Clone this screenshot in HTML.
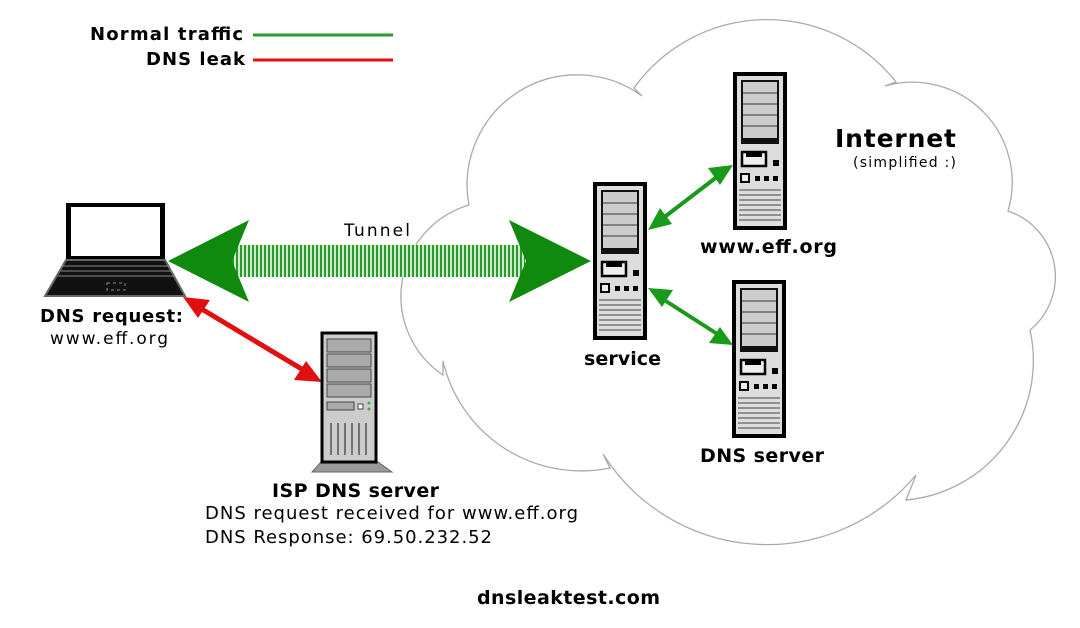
<!DOCTYPE html>
<html><head><meta charset="utf-8"><style>
body{margin:0;background:#fff}
svg{display:block}
text{font-family:"DejaVu Sans","Liberation Sans",sans-serif;fill:#000}
</style></head><body>
<svg width="1080" height="628" viewBox="0 0 1080 628" xmlns="http://www.w3.org/2000/svg">
<defs>
<pattern id="hatch" width="4" height="4" patternUnits="userSpaceOnUse">
<rect width="4" height="4" fill="#cfe8cf"/><rect width="2" height="4" fill="#2a9a2a"/>
</pattern>
<g id="tower">
<rect x="2" y="2" width="50" height="154" fill="#ddd" stroke="#000" stroke-width="4"/>
<rect x="8" y="8" width="38" height="64" fill="#111"/>
<rect x="10" y="10" width="34" height="56" fill="#ccc"/>
<path d="M10 21H44M10 32H44M10 43H44M10 54H44" stroke="#666" stroke-width="1.5"/>
<rect x="9" y="80" width="24" height="14" fill="#eee" stroke="#000" stroke-width="2.5"/>
<rect x="13" y="80" width="16" height="5" fill="#000"/>
<rect x="40" y="88" width="6" height="6" fill="#000"/>
<rect x="8" y="102" width="8" height="8" fill="#eee" stroke="#000" stroke-width="2"/>
<rect x="22" y="104" width="5" height="5" fill="#000"/><rect x="31" y="104" width="5" height="5" fill="#000"/><rect x="40" y="104" width="5" height="5" fill="#000"/>
<path d="M6 118H48M6 123H48M6 128H48M6 133H48M6 138H48M6 143H48M6 148H48" stroke="#777" stroke-width="1.5"/>
</g>
</defs>

<!-- cloud -->
<path d="M469 205 A110 110 0 0 1 642 96 L634 88 A164 164 0 0 1 896 82 L885 86 A100 100 0 0 1 1008 211 A69 69 0 0 1 1030 330 A140 140 0 0 1 906 500 L916 475 A194 194 0 0 1 603 454 L610 468 A142 142 0 0 1 443 361 L443 375 A95 95 0 0 1 469 205 Z" fill="#fff" stroke="#aaa" stroke-width="1.3"/>

<!-- legend -->
<text x="90" y="40" font-size="18" font-weight="bold" textLength="153">Normal traffic</text>
<line x1="253" y1="35" x2="393" y2="35" stroke="#2a9a2a" stroke-width="3"/>
<text x="146" y="65" font-size="18" font-weight="bold" textLength="99">DNS leak</text>
<line x1="253" y1="60" x2="393" y2="60" stroke="#e01010" stroke-width="3"/>

<text x="835" y="147" font-size="25" font-weight="bold" textLength="121">Internet</text>
<text x="853" y="167" font-size="14" textLength="103">(simplified :)</text>

<!-- tunnel -->
<rect x="225" y="245" width="300" height="32" fill="url(#hatch)"/>
<polygon points="168,261 249,220 232,261 249,302" fill="#0f8a0f"/>
<polygon points="591,261 509,220 526,261 509,302" fill="#0f8a0f"/>
<text x="344" y="236" font-size="17" textLength="66">Tunnel</text>

<!-- laptop -->
<rect x="66" y="203" width="99" height="57" fill="#000"/>
<rect x="71" y="207" width="89" height="49" fill="#fff"/>
<polygon points="66,260 165,260 185,296 45,296" fill="#111" stroke="#666" stroke-width="2"/>
<path d="M62 266H170M60 271H172M58 276H174" stroke="#888" stroke-width="1"/>
<rect x="107" y="283" width="18" height="7" fill="none" stroke="#888" stroke-width="1" stroke-dasharray="3 3"/>
<text x="40" y="322" font-size="18" font-weight="bold" textLength="143">DNS request:</text>
<text x="50" y="344" font-size="17" textLength="118">www.eff.org</text>

<!-- red arrow -->
<line x1="195" y1="305" x2="310" y2="374" stroke="#e01010" stroke-width="5"/>
<polygon points="183,297 210,300 198,318" fill="#e01010"/>
<polygon points="322,382 294,380 306,361" fill="#e01010"/>

<!-- ISP server -->
<polygon points="321,462 378,462 392,472 312,472" fill="#999" stroke="#666"/>
<rect x="322" y="333" width="54" height="129" fill="#ccc" stroke="#000" stroke-width="3"/>
<rect x="327" y="339" width="44" height="13" fill="#aaa" stroke="#444"/>
<rect x="327" y="354" width="44" height="13" fill="#aaa" stroke="#444"/>
<rect x="327" y="369" width="44" height="13" fill="#aaa" stroke="#444"/>
<rect x="327" y="384" width="44" height="13" fill="#aaa" stroke="#444"/>
<rect x="327" y="402" width="27" height="8" fill="#aaa" stroke="#444"/>
<rect x="358" y="404" width="5" height="5" fill="#fff" stroke="#444"/>
<circle cx="369" cy="403" r="1.5" fill="#4a4"/><circle cx="369" cy="409" r="1.5" fill="#4a4"/>
<path d="M331 423V455M338 423V455M345 423V455M352 423V455M359 423V455M366 423V455" stroke="#555" stroke-width="1.5"/>
<text x="272" y="497" font-size="19" font-weight="bold" textLength="167">ISP DNS server</text>
<text x="205" y="519" font-size="18" textLength="373">DNS request received for www.eff.org</text>
<text x="205" y="543" font-size="18" textLength="287">DNS Response: 69.50.232.52</text>

<!-- internet servers -->
<use href="#tower" x="593" y="182"/>
<use href="#tower" x="733" y="72"/>
<use href="#tower" x="732" y="280"/>
<text x="584" y="365" font-size="19" font-weight="bold" textLength="77">service</text>
<text x="700" y="253" font-size="19" font-weight="bold" textLength="137">www.eff.org</text>
<text x="700" y="462" font-size="19" font-weight="bold" textLength="124">DNS server</text>

<!-- small green arrows -->
<line x1="658" y1="222" x2="722" y2="173" stroke="#1a9a1a" stroke-width="4"/>
<polygon points="648,230 660,208 672,224" fill="#1a9a1a"/>
<polygon points="733,165 708,168 720,185" fill="#1a9a1a"/>
<line x1="658" y1="296" x2="722" y2="337" stroke="#1a9a1a" stroke-width="4"/>
<polygon points="648,288 673,290 662,307" fill="#1a9a1a"/>
<polygon points="733,345 720,327 709,343" fill="#1a9a1a"/>

<text x="477" y="604" font-size="19" font-weight="bold" textLength="183">dnsleaktest.com</text>
</svg>
</body></html>
